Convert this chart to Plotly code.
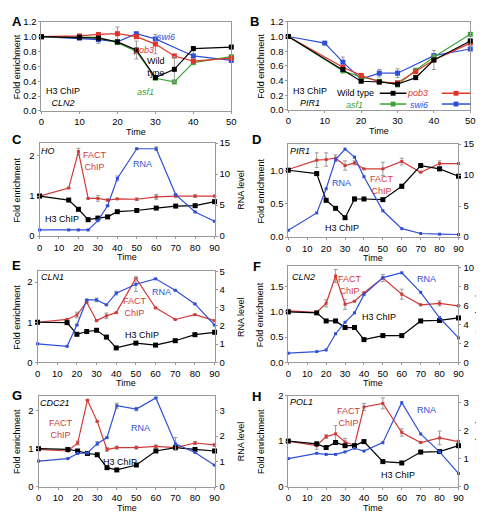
import plotly.graph_objects as go

W, H = 484, 512

# ---------------- DATA ----------------
# Panel A: H3 ChIP at CLN2 (fold enrichment)
tA = [0, 10, 15, 20, 25, 30, 35, 40, 50]
A_wt = [1.0, 0.99, 0.98, 0.93, 0.82, 0.45, 0.56, 0.84, 0.86]
A_wt_err = [None, None, None, None, 0.12, None, 0.17, None, None]
A_pob3 = [1.0, 1.01, 1.03, 1.04, 1.0, 0.90, 0.74, 0.67, 0.71]
A_pob3_err = [None, None, None, 0.09, None, 0.13, None, None, None]
A_swi6 = [1.0, 0.98, 0.96, 0.93, 1.04, 0.97, None, 0.74, 0.68]
A_swi6_err = [None, None, 0.05, None, None, None, None, 0.07, None]
A_asf1 = [1.0, 0.99, 0.99, 0.92, 0.80, 0.44, 0.39, 0.65, 0.73]

# Panel B: H3 ChIP at PIR1
tB = [0, 10, 15, 20, 25, 30, 35, 40, 50]
B_wt = [1.0, None, 0.55, 0.39, 0.38, 0.35, 0.44, 0.68, 0.94]
B_wt_err = [None, None, None, None, None, None, None, 0.13, None]
B_pob3 = [1.0, None, 0.58, 0.47, 0.38, 0.37, 0.52, 0.68, 0.91]
B_swi6 = [1.0, 0.91, 0.65, 0.42, 0.50, 0.50, None, 0.74, 0.83]
B_swi6_err = [None, None, 0.07, None, 0.05, 0.06, None, None, None]
B_asf1 = [1.0, None, 0.53, 0.45, 0.39, 0.34, 0.54, 0.72, 1.03]

tC = [0, 15, 20, 25, 30, 35, 40, 50, 60, 70, 80, 90]

# Panel C: HO
C_h3 = [1.0, 0.90, 0.67, 0.41, 0.45, 0.48, 0.61, 0.64, 0.70, 0.75, 0.76, 0.86]
C_fact = [1.0, 1.20, 2.11, 0.94, 0.94, 0.90, 0.93, 0.92, 0.98, 1.0, 1.0, 1.0]
C_fact_err = [0.03, None, 0.08, None, 0.07, 0.03, None, 0.03, 0.06, 0.03, 0.03, 0.02]
C_rna = [1.0, 1.0, 1.0, 1.0, 2.5, 4.9, 9.3, 14.1, 14.1, 6.7, 3.9, 2.4]
C_rna_err = [None, None, None, None, None, None, 0.4, None, 0.3, None, None, None]

# Panel D: PIR1
D_h3 = [1.0, 0.95, 0.55, 0.43, 0.29, 0.57, 0.57, 0.56, 0.76, 1.07, 1.02, 0.91]
D_h3_err = [None, 0.03, None, None, None, 0.03, None, None, 0.03, None, None, None]
D_fact = [1.01, 1.15, 1.16, 1.18, 1.07, 1.11, 1.02, 1.02, 1.13, 0.97, 1.10, 1.10]
D_fact_err = [None, 0.11, 0.10, 0.05, 0.07, 0.03, None, 0.10, 0.05, None, 0.04, None]
D_rna = [1.1, 3.9, 7.8, 12.5, 14.2, 12.9, 9.75, 4.25, 1.36, 0.58, 0.47, 0.42]

# Panel E: CLN1
E_h3 = [1.0, 0.99, 0.70, 0.77, 0.80, 0.63, 0.36, 0.48, 0.43, 0.54, 0.69, 0.75]
E_h3_err = [None, None, None, None, None, None, None, None, None, None, 0.04, None]
E_fact = [1.0, 1.07, 1.18, 1.50, 1.04, 1.16, 1.24, 2.10, 1.36, 1.07, 1.19, 1.04]
E_fact_err = [None, None, 0.07, None, None, 0.07, None, None, None, None, None, None]
E_rna = [1.02, 0.88, 2.05, 3.43, 3.43, 3.16, 3.80, 4.29, 4.59, 3.96, 3.21, 2.05]
E_rna_err = [None, None, None, None, 0.1, None, 0.1, 0.4, None, None, None, None]

# Panel F: CLN2
F_h3 = [1.0, 0.98, 0.82, 0.82, 0.69, 0.69, 0.45, 0.53, 0.53, 0.82, 0.83, 0.88]
F_fact = [1.02, 0.99, 1.17, 1.71, 1.15, 1.21, 1.38, 1.67, 1.35, 1.14, 1.17, 1.12]
F_fact_err = [0.03, 0.02, 0.07, 0.13, 0.10, None, None, 0.07, 0.10, None, 0.05, None]
F_rna = [0.97, 1.14, 1.31, 3.03, 4.24, 5.24, 7.17, 8.97, 9.48, 7.41, 4.72, 2.59]

# Panel G: CDC21
G_h3 = [1.0, 0.98, 0.94, 0.875, 0.84, 0.50, 0.44, 0.57, 0.94, 1.03, 0.98, 0.94]
G_h3_err = [None, None, None, None, None, 0.04, None, None, None, None, None, None]
G_fact = [0.98, 0.94, 1.15, 2.28, 1.72, 0.98, 1.03, 1.03, 1.06, 1.03, 1.15, 1.10]
G_fact_err = [None, None, 0.05, None, None, 0.05, 0.04, 0.04, 0.04, 0.04, 0.04, 0.04]
G_rna = [1.01, 1.11, 1.31, 1.33, 1.70, 1.94, 3.20, 3.07, 3.51, 1.69, 1.35, 0.85]
G_rna_err = [None, None, None, None, 0.08, None, 0.1, 0.07, None, 0.25, None, None]

# Panel H: POL1
H_h3 = [1.0, 0.94, 0.86, 0.97, 0.90, 0.90, 0.99, 0.55, 0.52, 0.76, 0.77, 0.90]
H_fact = [1.0, 0.90, 1.10, 1.16, 0.98, 0.91, 1.75, 1.83, 1.19, 0.97, 1.07, 0.99]
H_fact_err = [None, 0.08, 0.04, 0.18, 0.08, None, 0.08, 0.12, 0.08, None, 0.15, 0.03]
H_rna = [1.0, 1.19, 1.15, 1.15, 1.24, 1.37, 1.27, 1.57, 3.0, 1.88, 1.24, 0.47]

# ---------------- STYLE ----------------
BLACK = "#000000"
RED = "#e0352b"
RED2 = "#d23a3a"
BLUE = "#2f4fd8"
GREEN = "#3aa636"
GREY = "#9a9a9a"
FONT = "Liberation Sans, Arial, sans-serif"
TICK = 9.5
TITLE = 9
LBL = 9

fig = go.Figure()


def err(arr):
    if arr is None:
        return None
    return dict(type="data", array=arr, color=GREY, thickness=1, width=2, visible=True)


def add(x, y, color, xa, ya, size=5, e=None, symbol="square"):
    fig.add_trace(go.Scatter(
        x=x, y=y, mode="lines+markers", xaxis=xa, yaxis=ya,
        line=dict(color=color, width=1.2), connectgaps=True,
        marker=dict(color=color, size=size, symbol=symbol),
        error_y=err(e), cliponaxis=False, hoverinfo="skip"))


# panels: name, box (x0,x1,y0,y1) in px, x range, x ticks, y range, y ticks, y fmt, right range, right ticks
panels = [
    ("A", (31, 224, 8, 99), [0, 50], [0, 10, 20, 30, 40, 50], [0, 1.2], [0, 0.2, 0.4, 0.6, 0.8, 1.0, 1.2], ".1f", None, None),
    ("B", (282, 467, 8, 98), [0, 50], [0, 10, 20, 30, 40, 50], [0, 1.2], [0, 0.2, 0.4, 0.6, 0.8, 1.0, 1.2], ".1f", None, None),
    ("C", (29, 207, 132, 227), [0, 90], list(range(0, 91, 10)), [0, 2.32], [0, 1, 2], "d", [0, 15], [0, 5, 10, 15]),
    ("D", (282, 455, 133, 228), [0, 90], list(range(0, 91, 10)), [0, 1.39], [0, 0.5, 1.0], ".1f", [0, 15], [0, 5, 10, 15]),
    ("E", (27, 207, 263, 356), [0, 90], list(range(0, 91, 10)), [0, 2.27], [0, 1, 2], "d", [0, 5], [0, 1, 2, 3, 4, 5]),
    ("F", (282, 455, 258, 356), [0, 90], list(range(0, 91, 10)), [0, 1.9], [0, 0.5, 1.0, 1.5], ".1f", [0, 10.15], [0, 2, 4, 6, 8, 10]),
    ("G", (28, 207, 390, 483), [0, 90], list(range(0, 91, 10)), [0, 2.4], [0, 1, 2], "d", [0, 3.6], [0, 1, 2, 3]),
    ("H", (282, 455, 390, 483), [0, 90], list(range(0, 91, 10)), [0, 2.0], [0, 1, 2], "d", [0, 3.25], [0, 1, 2, 3]),
]

layout = dict(
    width=W, height=H, margin=dict(l=0, r=0, t=0, b=0),
    paper_bgcolor="white", plot_bgcolor="white", showlegend=False,
    font=dict(family=FONT, size=TICK, color="black"),
)

axis_common = dict(showgrid=False, zeroline=False, showline=True, linecolor=GREY, linewidth=1,
                   ticks="outside", ticklen=2, tickcolor=GREY, tickfont=dict(size=TICK, family=FONT))

annotations = []
shapes = []


def px(x, y):
    return x / W, 1 - y / H


def text(x, y, s, color="black", size=LBL, angle=0, bold=False):
    xx, yy = px(x, y)
    if bold:
        s = "<b>" + s + "</b>"
    annotations.append(dict(x=xx, y=yy, xref="paper", yref="paper", text=s, showarrow=False,
                            font=dict(color=color, size=size, family=FONT), textangle=angle,
                            xanchor="center", yanchor="middle", borderpad=0))


for i, (name, box, xr, xt, yr, yt, yf, rr, rt) in enumerate(panels):
    n = i + 1
    x0, x1, y0, y1 = box
    xs = "" if n == 1 else str(n)
    layout["xaxis" + xs] = dict(axis_common, domain=[x0 / W, x1 / W], anchor="y" + xs, range=xr,
                                tickvals=xt, mirror=True)
    layout["yaxis" + xs] = dict(axis_common, domain=[1 - y1 / H, 1 - y0 / H], anchor="x" + xs, range=yr,
                                tickvals=yt, tickformat=yf, mirror=(rr is None))
    if rr is not None:
        rn = str(n + 6)
        layout["yaxis" + rn] = dict(axis_common, overlaying="y" + xs, anchor="x" + xs, side="right",
                                    range=rr, tickvals=rt)
    # axis titles
    cx = (x0 + x1) / 2
    text(cx, y1 + 21.5, "Time", size=TITLE)
    cy = (y0 + y1) / 2
    lx = 6 if x0 < 100 else 254
    text(lx, cy, "Fold enrichment", size=TITLE, angle=-90)
    if rr is not None:
        text(234 if x0 < 100 else 476, cy, "RNA level", size=TITLE, angle=-90)

# panel letters
for s, x, y in [("A", 6, 8), ("B", 248, 8), ("C", 6, 128), ("D", 250, 128),
                ("E", 6, 257), ("F", 250, 258), ("G", 6, 390), ("H", 250, 391)]:
    text(x, y, s, size=13, bold=True)

# ---- traces ----
add(tA, A_swi6, BLUE, "x", "y", e=A_swi6_err)
add(tA, A_asf1, GREEN, "x", "y")
add(tA, A_pob3, RED, "x", "y", e=A_pob3_err)
add(tA, A_wt, BLACK, "x", "y", e=A_wt_err)

add(tB, B_swi6, BLUE, "x2", "y2", e=B_swi6_err)
add(tB, B_asf1, GREEN, "x2", "y2")
add(tB, B_pob3, RED, "x2", "y2")
add(tB, B_wt, BLACK, "x2", "y2", e=B_wt_err)

sets = [
    (C_h3, None, C_fact, C_fact_err, C_rna, C_rna_err),
    (D_h3, D_h3_err, D_fact, D_fact_err, D_rna, None),
    (E_h3, E_h3_err, E_fact, E_fact_err, E_rna, E_rna_err),
    (F_h3, None, F_fact, F_fact_err, F_rna, None),
    (G_h3, G_h3_err, G_fact, G_fact_err, G_rna, G_rna_err),
    (H_h3, None, H_fact, H_fact_err, H_rna, None),
]
for k, (h3, h3e, fa, fae, rna, rnae) in enumerate(sets):
    n = k + 3
    add(tC, rna, BLUE, "x%d" % n, "y%d" % (n + 6), size=3, e=rnae)
    add(tC, fa, RED2, "x%d" % n, "y%d" % n, size=3, e=fae)
    add(tC, h3, BLACK, "x%d" % n, "y%d" % n, size=5, e=h3e)

# ---- in-plot labels ----
# A
text(158, 24, "<i>swi6</i>", BLUE)
text(135, 37, "<i>pob3</i>", RED)
text(147, 54, "Wild<br>type")
text(137, 80, "<i>asf1</i>", GREEN)
text(53, 85, "H3 ChIP<br><i>CLN2</i>")
# B
text(304, 85, "H3 ChIP<br><i>PIR1</i>")
text(350, 81, "Wild type")
text(413, 81, "<i>pob3</i>", RED)
text(349, 92.5, "<i>asf1</i>", GREEN)
text(415, 92.5, "<i>swi6</i>", BLUE)
for (lx0, lx1, ly, c) in [(375, 402, 81, BLACK), (438, 467, 81, RED), (375, 402, 92, GREEN), (438, 467, 92, BLUE)]:
    a0, b0 = px(lx0, ly)
    a1, _ = px(lx1, ly)
    shapes.append(dict(type="line", xref="paper", yref="paper", x0=a0, x1=a1, y0=b0, y1=b0,
                       line=dict(color=c, width=1.5)))
    mx = (lx0 + lx1) / 2
    p0 = px(mx - 2.5, ly - 2.5)
    p1 = px(mx + 2.5, ly + 2.5)
    shapes.append(dict(type="rect", xref="paper", yref="paper", x0=p0[0], x1=p1[0], y0=p1[1], y1=p0[1],
                       fillcolor=c, line=dict(width=0)))
# C
text(38, 140, "<i>HO</i>")
text(85, 150.5, "FACT<br>ChIP", RED2)
text(134, 153, "RNA", BLUE)
text(52, 210, "H3 ChIP")
# D
text(294, 140, "<i>PIR1</i>")
text(336, 173, "RNA", BLUE)
text(377, 174.5, "FACT<br>ChIP", RED2)
text(337, 219, "H3 ChIP")
# E
text(42, 269, "<i>CLN1</i>")
text(153, 284, "RNA", BLUE)
text(126, 299.5, "FACT<br>ChIP", RED2)
text(133, 328, "H3 ChIP")
# F
text(297, 269, "<i>CLN2</i>")
text(345, 276.5, "FACT<br>ChIP", RED2)
text(422, 271, "RNA", BLUE)
text(374, 310, "H3 ChIP")
# G
text(45, 398, "<i>CDC21</i>")
text(51, 424.5, "FACT<br>ChIP", RED2)
text(132, 423, "RNA", BLUE)
text(111, 458, "H3 ChIP")
# H
text(295, 397, "<i>POL1</i>")
text(344, 412, "FACT<br>ChIP", RED2)
text(422, 405, "RNA", BLUE)
text(394, 471, "H3 ChIP")

layout["annotations"] = annotations
layout["shapes"] = shapes
fig.update_layout(**layout)
fig.write_html("out.html")
